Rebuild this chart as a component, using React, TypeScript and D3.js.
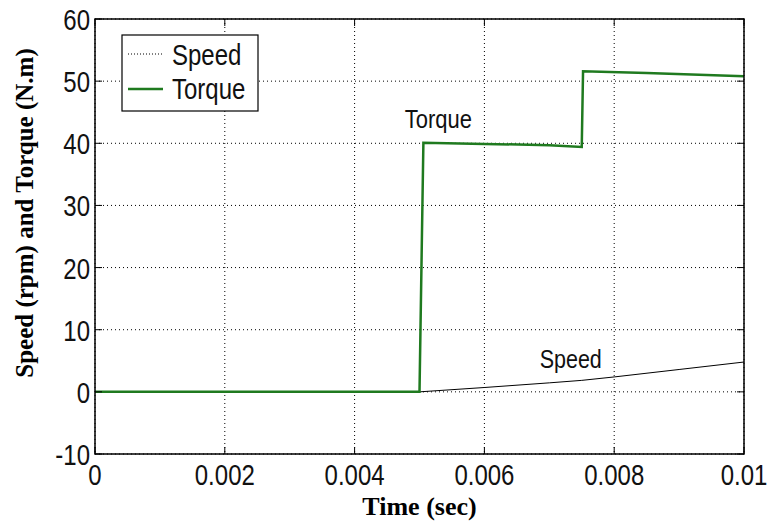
import React from 'react';
import * as d3 from 'd3';

// time in seconds
const torqueTime = [0, 0.001, 0.002, 0.003, 0.004, 0.005, 0.00506, 0.006, 0.007, 0.0075, 0.00752, 0.0085, 0.01];
const torqueValue = [0, 0, 0, 0, 0, 0, 40.1, 39.9, 39.7, 39.4, 51.6, 51.3, 50.8];

const speedTime = [0, 0.005, 0.006, 0.007, 0.0075, 0.008, 0.009, 0.01];
const speedValue = [0, 0, 0.7, 1.45, 1.85, 2.4, 3.6, 4.8];

const xTicks = [0, 0.002, 0.004, 0.006, 0.008, 0.01];
const yTicks = [-10, 0, 10, 20, 30, 40, 50, 60];

const width = 769;
const height = 524;
const margin = { left: 95, top: 19, right: 25, bottom: 70 };

const tickFont = 'Liberation Sans, Arial, sans-serif';
const labelFont = 'Liberation Serif, Times New Roman, serif';

// the source picture is stretched a little vertically, so text is too
const Label = ({ x, y, size, anchor = 'start', children }:
    { x: number, y: number, size: number, anchor?: string, children: React.ReactNode }) => (
    <text transform={`translate(${x},${y}) scale(1,1.2)`} textAnchor={anchor}
        fontFamily={tickFont} fontSize={size} fill="#111">{children}</text>
);

const App = () => {
    const chartWidth = width - margin.left - margin.right;
    const chartHeight = height - margin.top - margin.bottom;

    const xScale = d3.scaleLinear().domain([0, 0.01]).range([0, chartWidth]);
    const yScale = d3.scaleLinear().domain([-10, 60]).range([chartHeight, 0]);

    const line = d3.line<[number, number]>()
        .x(d => xScale(d[0]))
        .y(d => yScale(d[1]));

    const torque = torqueTime.map((t, i) => [t, torqueValue[i]] as [number, number]);
    const speed = speedTime.map((t, i) => [t, speedValue[i]] as [number, number]);

    return (
        <svg width={width} height={height} style={{ position: 'absolute', left: 0, top: 0 }}>
            <rect width={width} height={height} fill="#fff" />
            <g transform={`translate(${margin.left},${margin.top})`}>
                {xTicks.map(t => (
                    <line key={'gx' + t} x1={xScale(t)} x2={xScale(t)} y1={0} y2={chartHeight}
                        stroke="#000" strokeWidth={1} strokeDasharray="1,3" />
                ))}
                {yTicks.map(t => (
                    <line key={'gy' + t} x1={0} x2={chartWidth} y1={yScale(t)} y2={yScale(t)}
                        stroke="#000" strokeWidth={1} strokeDasharray="1,3" />
                ))}
                <path d={line(speed) || ''} fill="none" stroke="#000" strokeWidth={1} />
                <path d={line(torque) || ''} fill="none" stroke="#1f7a1f" strokeWidth={2.5} />
                <rect x={0} y={0} width={chartWidth} height={chartHeight} fill="none" stroke="#000" strokeWidth={1.5} />
                {xTicks.map(t => (
                    <g key={'tx' + t}>
                        <line x1={xScale(t)} x2={xScale(t)} y1={chartHeight} y2={chartHeight - 7} stroke="#000" />
                        <line x1={xScale(t)} x2={xScale(t)} y1={0} y2={7} stroke="#000" />
                        <Label x={xScale(t)} y={chartHeight + 31} size={24} anchor="middle">{t}</Label>
                    </g>
                ))}
                {yTicks.map(t => (
                    <g key={'ty' + t}>
                        <line x1={0} x2={7} y1={yScale(t)} y2={yScale(t)} stroke="#000" />
                        <line x1={chartWidth} x2={chartWidth - 7} y1={yScale(t)} y2={yScale(t)} stroke="#000" />
                        <Label x={-5} y={yScale(t) + 11} size={24} anchor="end">{t}</Label>
                    </g>
                ))}
                <Label x={xScale(0.00529)} y={yScale(42.5)} size={22} anchor="middle">Torque</Label>
                <Label x={xScale(0.00733)} y={yScale(3.9)} size={21.5} anchor="middle">Speed</Label>
                <g transform="translate(27,16)">
                    <rect x={0} y={0} width={136} height={76} fill="#fff" stroke="#000" strokeWidth={1.2} />
                    <line x1={6} x2={41} y1={19} y2={19} stroke="#000" strokeDasharray="1,2" />
                    <Label x={50} y={30} size={24}>Speed</Label>
                    <line x1={6} x2={41} y1={54} y2={54} stroke="#1f7a1f" strokeWidth={2.5} />
                    <Label x={50} y={64} size={24}>Torque</Label>
                </g>
            </g>
            <text x={margin.left + chartWidth / 2} y={515} textAnchor="middle" fontFamily={labelFont}
                fontWeight="bold" fontSize={26}>Time (sec)</text>
            <text transform="translate(33,213) rotate(-90)" textAnchor="middle"
                fontFamily={labelFont} fontWeight="bold" fontSize={25}>Speed (rpm) and Torque (N.m)</text>
        </svg>
    );
};

export default App;
